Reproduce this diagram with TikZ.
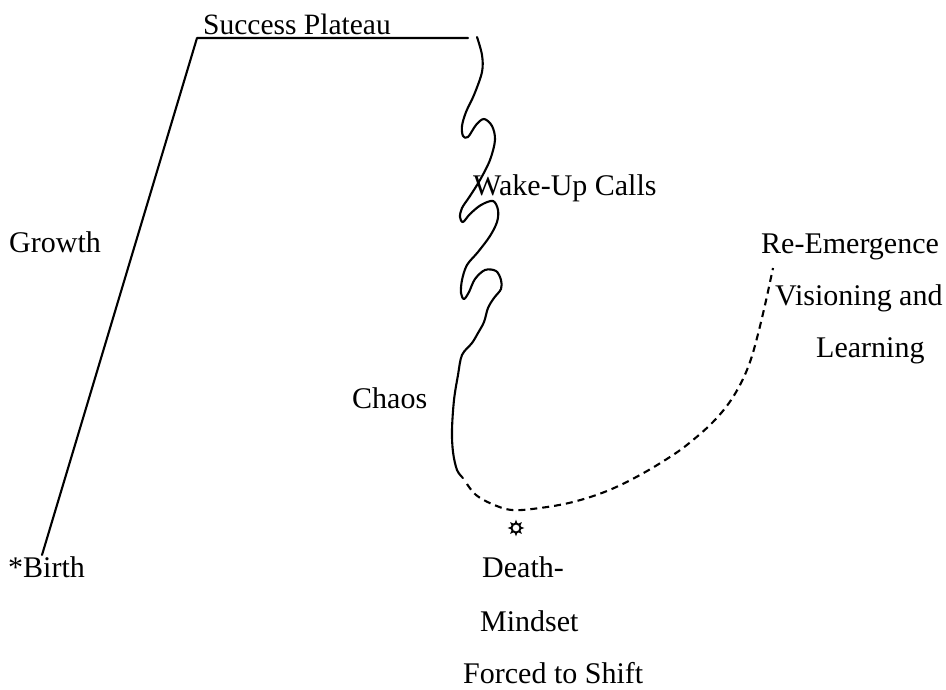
\documentclass[tikz,border=0pt]{standalone}
\usepackage{fontspec}
\setmainfont{Liberation Serif}
\begin{document}
\begin{tikzpicture}[x=1pt,y=-1pt,
  lbl/.style={anchor=base west,inner sep=0pt,font=\fontsize{30}{36}\selectfont},
  trace/.style={line width=2.1pt,line join=round,line cap=round},
  dashtrace/.style={line width=2.1pt,dash pattern=on 7pt off 5pt}]
\useasboundingbox (0,0) rectangle (946,690);

% labels
\node[lbl,font=\fontsize{29.5}{36}\selectfont] (plateau) at (203,35) {Success Plateau};
\node[lbl] (growth)  at (9,252) {Growth};
\node[lbl] (wake)    at (473,196) {Wake-Up Calls};
\node[lbl] (reem)    at (761,253) {Re-Emergence};
\node[lbl] (vision)  at (775,305) {Visioning and};
\node[lbl] (learn)   at (816,357) {Learning};
\node[lbl] (chaos)   at (352,408) {Chaos};
\node[lbl] (death)   at (482,577) {Death-};
\node[lbl] (mind)    at (480,631) {Mindset};
\node[lbl] (shift)   at (463,683) {Forced to Shift};
\node[lbl] (birth)   at (8,577) {*Birth};

% key points of the life curve
\coordinate (start)  at (42,555);
\coordinate (peak)   at (197,38);
\coordinate (edge)   at (468,38);

% growth and plateau
\draw[trace] (start) -- (peak) -- (edge);

% the wavy descent through wake-up calls and chaos
\draw[trace] plot[smooth,tension=0.55] coordinates {
  (477,37) (482,55) (482,72) (474,95) (466,112) (462,126) (463,136) (468,137)
  (476,125) (484,119) (492,126) (495,140) (490,160) (480,180) (470,196)
  (462,208) (460,217) (463,222) (470,214) (481,205) (493,201) (498,210)
  (497,222) (490,236) (478,252) (467,265) (462,280) (461,293) (464,299)
  (469,292) (475,279) (485,270) (496,271) (501,280) (501,289) (494,298)
  (488,308) (484,322) (478,333) (472,343) (462,355) (458,375) (454,400)
  (452,430) (453,452) (457,470) (463,478)};

% dashed recovery towards re-emergence
\draw[dashtrace] plot[smooth,tension=0.6] coordinates {
  (467,484) (476,495) (492,504) (512,510) (540,508) (573,502) (607,491)
  (640,475) (673,455) (693,440) (713,422) (729,403) (741,383) (750,362)
  (757,338) (765,305) (773,268)};

% sun mark under the lowest point
\begin{scope}[shift={(516,528)}]
  \fill foreach \a in {0,45,...,315} {
    (\a:8.4) -- (\a+20:4.5) -- (\a-20:4.5) -- cycle };
  \draw[line width=1.9pt] (0,0) circle (4.5);
\end{scope}
\end{tikzpicture}
\end{document}
